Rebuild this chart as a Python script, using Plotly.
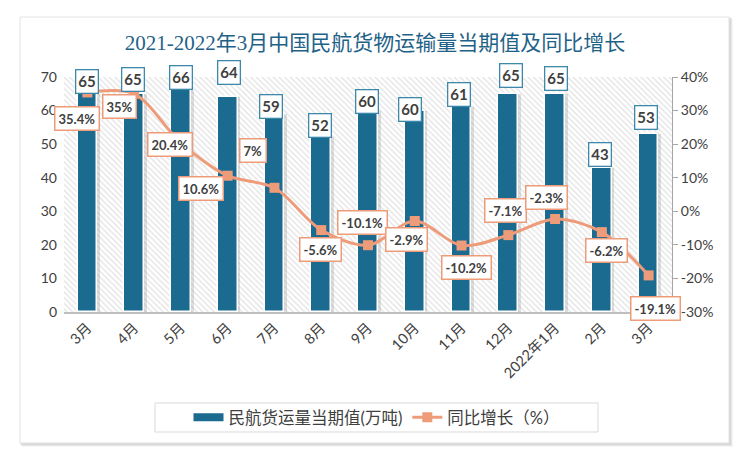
import plotly.graph_objects as go

# ---- data ----
categories = ["3月", "4月", "5月", "6月", "7月", "8月", "9月", "10月", "11月", "12月", "2022年1月", "2月", "3月"]
cargo_volume = [65, 65, 66, 64, 59, 52, 60, 60, 61, 65, 65, 43, 53]
yoy_growth = [35.4, 35, 20.4, 10.6, 7, -5.6, -10.1, -2.9, -10.2, -7.1, -2.3, -6.2, -19.1]
left_ticks = [0, 10, 20, 30, 40, 50, 60, 70]
right_ticks = [-30, -20, -10, 0, 10, 20, 30, 40]

# ---- label placement (pixel offsets) ----
bar_label_dx = [0, -1, 0, 1, -3, -1, -1, -5, -3, 3, 1, -2, -3]
bar_label_dy = [12, 14, 13, 25, 7, 12, 9, 1, 13, 18, 15, 13, 17]
line_label_dx = [-10, -15, -11, -27, -21, -1, -6, -8, 5, -3, -9, 5, 7]
line_label_dy = [26, 13, 2, 13, -37, 19, -23, 18, 22, -25, -22, 18, 33]

BAR = "#1B6A8F"
LINE = "#EE9B79"
TXT = "#404040"
FONT = "Lato, Noto Sans CJK SC, sans-serif"

xs = list(range(len(categories)))
n = len(categories)

# plot area geometry in px
W, H = 750, 461
L, R, T, B = 64, 78, 77, 149
pw, ph = W - L - R, H - T - B

def px_x(p):
    return (p - L) / pw

def px_y(p):
    return (H - B - p) / ph

fig = go.Figure()

# hatched plot background
fig.add_trace(go.Bar(
    x=[(n - 1) / 2], y=[left_ticks[-1]], width=[n],
    marker=dict(color="white", line=dict(width=0),
                pattern=dict(shape="\\", fgcolor="#c4c4c4", bgcolor="white", size=4, solidity=0.3)),
    hoverinfo="skip", showlegend=False,
))

# bar shadow
fig.add_trace(go.Bar(
    x=xs, y=cargo_volume, width=0.46, offset=-0.19,
    marker=dict(color="rgba(150,150,150,0.30)", line=dict(width=0)),
    hoverinfo="skip", showlegend=False,
))

fig.add_trace(go.Bar(
    x=xs, y=cargo_volume, width=0.42, name="民航货运量当期值(万吨)",
    marker=dict(color=BAR, line=dict(color="white", width=1.5)),
    showlegend=False,
))
# legend swatch for the bars (wide rectangle like the reference)
fig.add_trace(go.Scatter(
    x=[None], y=[None], mode="lines", name="民航货运量当期值(万吨)",
    line=dict(color=BAR, width=8), hoverinfo="skip",
))

fig.add_trace(go.Scatter(
    x=xs, y=yoy_growth, yaxis="y2", name="同比增长（%）",
    mode="lines+markers",
    line=dict(color=LINE, width=3, shape="spline", smoothing=0.9),
    marker=dict(symbol="square", size=10, color=LINE),
))

ann = []
for i, v in enumerate(cargo_volume):
    ann.append(dict(
        x=xs[i], y=v, xref="x", yref="y", text=f"<b>{v}</b>", showarrow=False,
        xshift=bar_label_dx[i], yshift=bar_label_dy[i], xanchor="center", yanchor="middle",
        font=dict(family=FONT, size=15, color=TXT),
        bgcolor="white", bordercolor="#3D89AB", borderwidth=1.3, borderpad=2,
    ))
for i, v in enumerate(yoy_growth):
    ann.append(dict(
        x=xs[i], y=v, xref="x", yref="y2", text=f"<b>{v:g}%</b>", showarrow=False,
        xshift=line_label_dx[i], yshift=-line_label_dy[i], xanchor="center", yanchor="middle",
        font=dict(family=FONT, size=13, color=TXT),
        bgcolor="white", bordercolor=LINE, borderwidth=1.5, borderpad=3,
    ))

shapes = []
# soft card shadow
for k, a in enumerate([0.04, 0.05, 0.07]):
    off = 4 - k
    shapes.append(dict(type="rect", xref="paper", yref="paper", layer="below",
                       x0=px_x(20 + off - 2), x1=px_x(729 + off), y0=px_y(443 + off), y1=px_y(17 + off - 2),
                       line=dict(width=0), fillcolor=f"rgba(0,0,0,{a})"))
shapes.append(dict(type="rect", xref="paper", yref="paper", layer="below",
                   x0=px_x(20), x1=px_x(729), y0=px_y(443), y1=px_y(17),
                   line=dict(width=1, color="#e3e3e3"), fillcolor="white"))
# legend frame
shapes.append(dict(type="rect", xref="paper", yref="paper", layer="below",
                   x0=px_x(155), x1=px_x(598), y0=px_y(432), y1=px_y(403),
                   line=dict(width=1, color="#d9d9d9"), fillcolor="white"))

fig.update_layout(
    width=W, height=H,
    margin=dict(l=L, r=R, t=T, b=B),
    paper_bgcolor="white", plot_bgcolor="rgba(0,0,0,0)",
    barmode="overlay", bargap=0,
    title=dict(text="2021-2022年3月中国民航货物运输量当期值及同比增长",
               x=0.5, xref="container", xanchor="center",
               y=1 - 43 / H, yref="container", yanchor="middle",
               font=dict(family="Liberation Serif, Noto Sans CJK SC, serif", size=21, color="#1F6287")),
    xaxis=dict(range=[-0.5, n - 0.5], tickmode="array", tickvals=xs, ticktext=categories,
               tickangle=-45, tickfont=dict(family=FONT, size=14.5, color=TXT),
               showline=True, linecolor="#bfbfbf", linewidth=1.5, ticks="", showgrid=False, zeroline=False),
    yaxis=dict(range=[left_ticks[0], left_ticks[-1]], tickmode="array", tickvals=left_ticks,
               tickfont=dict(family=FONT, size=14, color=TXT), showgrid=False, zeroline=False,
               showline=False, ticks="", ticklabelstandoff=6),
    yaxis2=dict(range=[right_ticks[0], right_ticks[-1]], tickmode="array", tickvals=right_ticks,
                ticktext=[f"{t}%" for t in right_ticks], overlaying="y", side="right",
                tickfont=dict(family=FONT, size=14, color=TXT), showgrid=False, zeroline=False,
                showline=True, linecolor="#a6a6a6", linewidth=1, ticks="outside", ticklen=5, tickcolor="#a6a6a6"),
    legend=dict(orientation="h", x=px_x(377), xanchor="center", y=px_y(417.5), yanchor="middle",
                borderwidth=0, bgcolor="rgba(0,0,0,0)",
                font=dict(family=FONT, size=16.5, color=TXT), itemwidth=30,
                traceorder="normal"),
    annotations=ann,
    shapes=shapes,
    showlegend=True,
)

fig.write_html("out.html", config={"displayModeBar": False},
               post_script="document.body.style.margin='0';document.body.style.padding='0';")
